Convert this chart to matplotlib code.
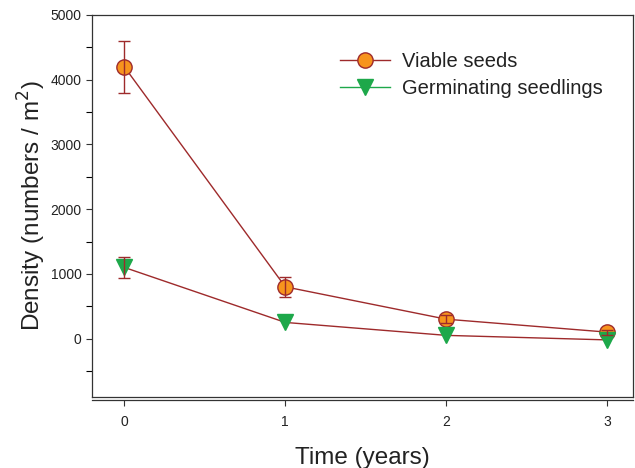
import matplotlib.pyplot as plt
from matplotlib.lines import Line2D
from matplotlib.ticker import MultipleLocator

# data
years = [0, 1, 2, 3]
viable = [4200, 800, 300, 100]
viable_err = [400, 150, 60, 40]
germ = [1100, 250, 50, -20]
germ_err = [165, 0, 0, 0]

plt.rcParams['font.family'] = ['Liberation Sans', 'DejaVu Sans']

red = '#9E2A2B'
orange = '#F7941D'
green = '#1DA84A'

fig = plt.figure(figsize=(6.35, 4.68), dpi=100)
ax = fig.add_axes([0.145, 0.152, 0.852, 0.816])

ax.plot(years, viable, color=red, lw=1, zorder=2)
ax.plot(years, germ, color=red, lw=1, zorder=2)
ax.plot(years, viable, ls='none', marker='o', ms=11, mfc=orange, mec=red, mew=1, zorder=3)
ax.plot(years, germ, ls='none', marker='v', ms=11, mfc=green, mec=green, zorder=3)
ax.errorbar(years, viable, yerr=viable_err, fmt='none', ecolor=red, elinewidth=1,
            capsize=4.5, capthick=1, zorder=4)
ax.errorbar(years[:1], germ[:1], yerr=germ_err[:1], fmt='none', ecolor=red, elinewidth=1,
            capsize=4.5, capthick=1, zorder=4)

ax.set_xlim(-0.2, 3.16)
ax.set_ylim(-900, 5000)
ax.set_xticks(years)
ax.yaxis.set_major_locator(MultipleLocator(1000))
ax.yaxis.set_minor_locator(MultipleLocator(500))
ax.tick_params(direction='out', labelsize=10, length=4, width=0.8, color='#333333',
               labelcolor='#222222')
ax.tick_params(axis='y', which='minor', direction='out', length=4, width=0.8)
ax.tick_params(axis='x', pad=7)

for s in ax.spines.values():
    s.set_color('#333333')
    s.set_linewidth(0.9)
ax.spines['bottom'].set_position(('outward', 2))
ax.axhline(-900, color='#333333', lw=0.9, clip_on=False)

ax.set_xlabel('Time (years)', fontsize=17.5, labelpad=13, color='#222222')
ax.set_ylabel('Density (numbers / m$^2$)', fontsize=17.5, labelpad=2, color='#222222')

handles = [
    Line2D([], [], color=red, lw=1, marker='o', ms=11, mfc=orange, mec=red),
    Line2D([], [], color=green, lw=1, marker='v', ms=11, mfc=green, mec=green),
]
ax.legend(handles, ['Viable seeds', 'Germinating seedlings'], loc='upper left',
          bbox_to_anchor=(0.425, 0.95), frameon=False, fontsize=14.5,
          handlelength=2.5, handletextpad=0.55, labelspacing=0.4,
          labelcolor='#222222')

fig.savefig('out.png', dpi=100)
